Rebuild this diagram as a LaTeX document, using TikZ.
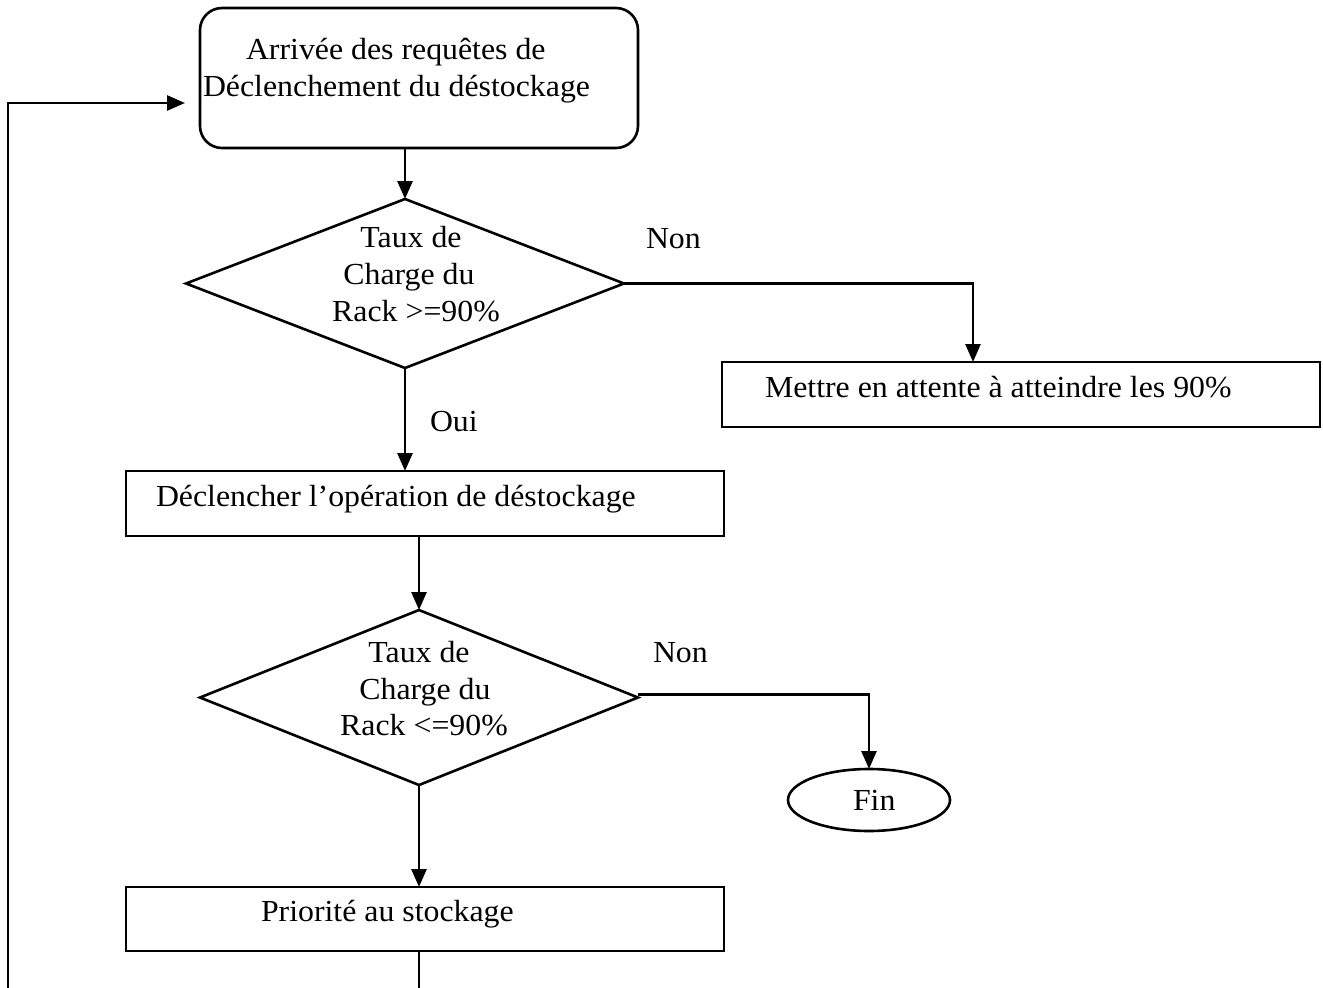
\documentclass[tikz,border=0pt]{standalone}
\usepackage{fontspec}
\setmainfont{Liberation Serif}[FakeStretch=1.04]
\usetikzlibrary{arrows.meta,shapes.geometric}
\begin{document}
\begin{tikzpicture}[x=1pt,y=-1pt,
  every node/.style={inner sep=0pt, outer sep=0pt},
  txt/.style={font=\fontsize{30.6}{37}\selectfont, anchor=base west},
  ctxt/.style={font=\fontsize{30.6}{37}\selectfont, anchor=base},
  boxline/.style={draw, line width=2.6pt},
  flow/.style={line width=2.6pt, -{Triangle[length=18pt,width=15pt]}},
  plain/.style={line width=2.6pt}]
\useasboundingbox (0,0) rectangle (1323,988);

% shapes of the flowchart
\node[boxline, rounded corners=22pt, minimum width=438pt, minimum height=140pt] (start) at (419,78) {};
\node[boxline, diamond, minimum width=438pt, minimum height=169pt] (d1) at (405,283.5) {};
\node[boxline, minimum width=598pt, minimum height=65pt] (wait) at (1021,394.5) {};
\node[boxline, minimum width=598pt, minimum height=65pt] (trig) at (425,503.5) {};
\node[boxline, diamond, minimum width=438pt, minimum height=175pt] (d2) at (419,697.5) {};
\node[boxline, ellipse, minimum width=162pt, minimum height=62pt] (fin) at (869,800) {};
\node[boxline, minimum width=598pt, minimum height=64pt] (prio) at (425,919) {};

% texts
\node[txt] (t1a) at (246,59) {Arrivée des requêtes de};
\node[txt] (t1b) at (203,96) {Déclenchement du déstockage};
\node[ctxt] (q1a) at (411,247) {Taux de};
\node[ctxt] (q1b) at (409,284) {Charge du};
\node[ctxt] (q1c) at (416,321) {Rack >=90\%};
\node[txt] (non1) at (646,248) {Non};
\node[txt] (twait) at (765,397) {Mettre en attente à atteindre les 90\%};
\node[txt] (oui) at (430,431) {Oui};
\node[txt] (ttrig) at (156,506) {Déclencher l’opération de déstockage};
\node[ctxt] (q2a) at (419,662) {Taux de};
\node[ctxt] (q2b) at (425,699) {Charge du};
\node[ctxt] (q2c) at (424,735) {Rack <=90\%};
\node[txt] (non2) at (653,662) {Non};
\node[txt] (tfin) at (853,810) {Fin};
\node[txt] (tprio) at (261,921) {Priorité au stockage};

% loop-back coordinates
\coordinate (loopdown) at (d2.south |- 0,988);
\coordinate (loopleft) at (8,988);
\coordinate (entry) at (185,103);

% connectors
\draw[flow] (d1.north |- start.south) -- (d1.north);
\draw[flow] (d1.east) -| ([xshift=-48pt]wait.north);
\draw[flow] (d1.south) -- (d1.south |- trig.north);
\draw[flow] (d2.north |- trig.south) -- (d2.north);
\draw[flow] ([yshift=3pt]d2.east) -| (fin.north);
\draw[flow] (d2.south) -- (d2.south |- prio.north);
\draw[plain] (d2.south |- prio.south) -- (loopdown);
\draw[flow] (loopleft) |- (entry);
\end{tikzpicture}
\end{document}
